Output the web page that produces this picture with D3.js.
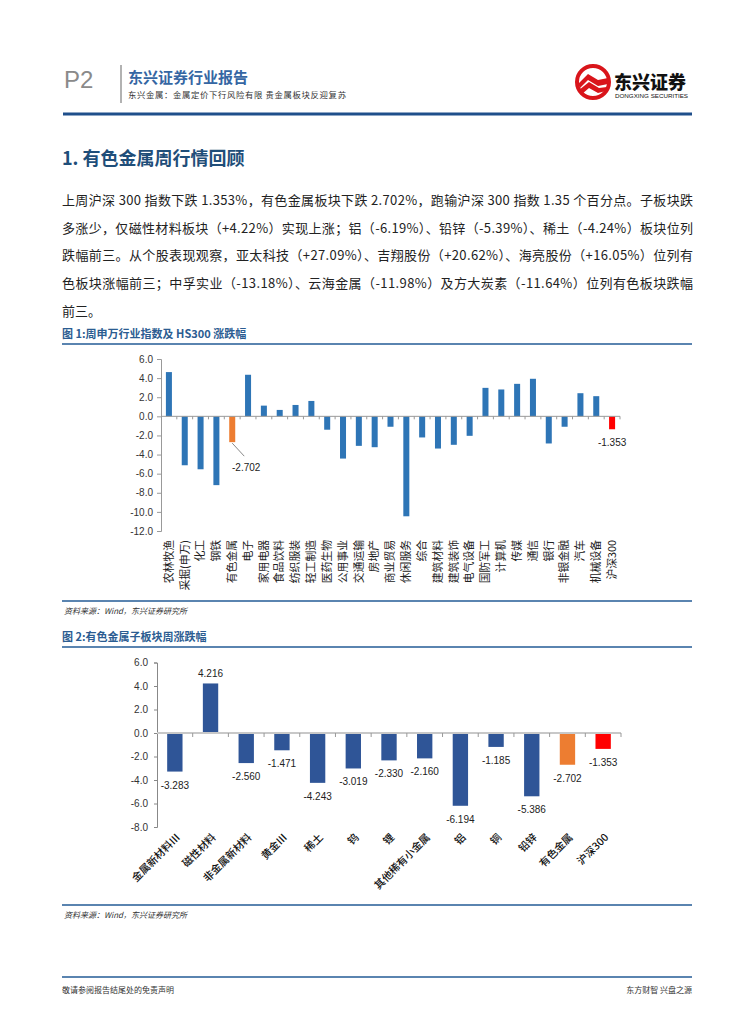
<!DOCTYPE html>
<html><head><meta charset="utf-8">
<script src="https://cdn.jsdelivr.net/npm/d3@7"></script>
<style>
body{margin:0;background:#fff;}
svg text{font-family:"Noto Sans CJK SC","Liberation Sans",sans-serif;}
</style></head>
<body>
<script>
// ---------- DATA ----------
const industries = ["农林牧渔","采掘(申万)","化工","钢铁","有色金属","电子","家用电器","食品饮料","纺织服装","轻工制造","医药生物","公用事业","交通运输","房地产","商业贸易","休闲服务","综合","建筑材料","建筑装饰","电气设备","国防军工","计算机","传媒","通信","银行","非银金融","汽车","机械设备","沪深300"];
const industryChange = [4.63,-5.12,-5.54,-7.2,-2.702,4.35,1.12,0.67,1.19,1.61,-1.40,-4.42,-3.09,-3.23,-1.09,-10.46,-2.21,-3.37,-2.98,-2.04,2.98,2.81,3.40,3.93,-2.84,-1.09,2.42,2.11,-1.353];
const yTicks1 = [6,4,2,0,-2,-4,-6,-8,-10,-12];

const subSectors = ["金属新材料Ⅲ","磁性材料","非金属新材料","黄金Ⅲ","稀土","钨","锂","其他稀有小金属","铝","铜","铅锌","有色金属","沪深300"];
const subChange = [-3.283,4.216,-2.560,-1.471,-4.243,-3.019,-2.330,-2.160,-6.194,-1.185,-5.386,-2.702,-1.353];
const yTicks2 = [6,4,2,0,-2,-4,-6,-8];

const paraLines = [
 "上周沪深 300 指数下跌 1.353%，有色金属板块下跌 2.702%，跑输沪深 300 指数 1.35 个百分点。子板块跌",
 "多涨少，仅磁性材料板块（+4.22%）实现上涨；铝（-6.19%）、铅锌（-5.39%）、稀土（-4.24%）板块位列",
 "跌幅前三。从个股表现观察，亚太科技（+27.09%）、吉翔股份（+20.62%）、海亮股份（+16.05%）位列有",
 "色板块涨幅前三；中孚实业（-13.18%）、云海金属（-11.98%）及方大炭素（-11.64%）位列有色板块跌幅",
 "前三。"
];

// ---------- PAGE ----------
const svg = d3.select("body").append("svg").attr("width",755).attr("height",1024);
const BLUE1="#2E75B6", BLUE2="#2F5597", ORANGE="#ED7D31", RED="#FF0000";
function barColor(name){ return name==="有色金属"?ORANGE:(name==="沪深300"?RED:null); }
const f1 = v=>v.toFixed(1), f3 = v=>v.toFixed(3);

// header
svg.append("text").attr("x",64).attr("y",88).attr("font-size",24).attr("fill","#8a8a8a")
  .style("font-family","Liberation Sans, sans-serif").text("P2");
svg.append("line").attr("x1",121).attr("x2",121).attr("y1",65).attr("y2",103).attr("stroke","#999").attr("stroke-width",1.5);
svg.append("text").attr("x",128).attr("y",83).attr("font-size",15).attr("font-weight",700).attr("fill","#3566a3").text("东兴证券行业报告");
svg.append("text").attr("x",128).attr("y",98).attr("font-size",8.4).attr("fill","#333")
  .attr("textLength",218).attr("lengthAdjust","spacing").text("东兴金属：金属定价下行风险有限 贵金属板块反迎复苏");
svg.append("line").attr("x1",63).attr("x2",692).attr("y1",114).attr("y2",114).attr("stroke","#1f4f8b").attr("stroke-width",3);

// logo
const logo = svg.append("g");
logo.append("circle").attr("cx",593).attr("cy",82).attr("r",16).attr("fill","none").attr("stroke","#d9151b").attr("stroke-width",4);
logo.append("path").attr("d","M578,84 L588,74 L598,80 L608,78 L608,84 L598,86 L588,80 L580,88 Z").attr("fill","#d9151b");
logo.append("path").attr("d","M579,90 L589,82 L599,88 L607,87 L606,91 L598,93 L589,88 L582,94 Z").attr("fill","#d9151b");
svg.append("text").attr("x",614).attr("y",89).attr("font-size",18).attr("font-weight",900).attr("fill","#111").text("东兴证券");
svg.append("text").attr("x",615).attr("y",98).attr("font-size",5.5).attr("fill","#111").attr("textLength",73).attr("lengthAdjust","spacingAndGlyphs").style("font-family","Liberation Sans, sans-serif").text("DONGXING SECURITIES");

// section heading
svg.append("text").attr("x",62).attr("y",165).attr("font-size",18).attr("font-weight",700).attr("fill","#1f4e79").text("1. 有色金属周行情回顾");

// paragraph
paraLines.forEach((t,i)=>{
  const tx = svg.append("text").attr("x",62).attr("y",205+i*27.7).attr("font-size",13).attr("fill","#222").text(t);
  if(i<paraLines.length-1) tx.attr("textLength",631).attr("lengthAdjust","spacing");
});

// figure titles / lines / sources
function figHeader(y, title){
  svg.append("text").attr("x",62).attr("y",y).attr("font-size",11).attr("font-weight",700).attr("fill","#2b5c91").text(title);
  svg.append("line").attr("x1",62).attr("x2",692).attr("y1",y+6).attr("y2",y+6).attr("stroke","#5a84b0").attr("stroke-width",2);
}
function figSource(y){
  svg.append("line").attr("x1",62).attr("x2",692).attr("y1",y).attr("y2",y).attr("stroke","#5a84b0").attr("stroke-width",2);
  svg.append("text").attr("x",64).attr("y",y+13).attr("font-size",8).attr("font-style","italic").attr("fill","#333").text("资料来源：Wind，东兴证券研究所");
}
figHeader(338, "图 1:周申万行业指数及 HS300 涨跌幅");
figSource(601);
figHeader(641, "图 2:有色金属子板块周涨跌幅");
figSource(905);

// footer
svg.append("line").attr("x1",62).attr("x2",692).attr("y1",977).attr("y2",977).attr("stroke","#5a84b0").attr("stroke-width",2);
svg.append("text").attr("x",62).attr("y",993).attr("font-size",8).attr("fill","#333").text("敬请参阅报告结尾处的免责声明");
svg.append("text").attr("x",692).attr("y",993).attr("text-anchor","end").attr("font-size",8).attr("fill","#333").text("东方财智 兴盘之源");

// ---------- CHART 1 ----------
{
  const y = d3.scaleLinear().domain([-12,6]).range([531,359]);
  const x = d3.scaleBand().domain(industries).range([161,620]);
  const bw = x.bandwidth()*0.38;
  const g = svg.append("g");
  const ax = g.append("g").attr("transform","translate(161,0)")
    .call(d3.axisLeft(y).tickValues(yTicks1).tickFormat(f1).tickSize(4).tickPadding(4));
  ax.select(".domain").attr("stroke","#999");
  ax.selectAll(".tick line").attr("stroke","#999");
  ax.selectAll("text").attr("font-size",10).attr("fill","#333").style("font-family","Liberation Sans, sans-serif");

  g.selectAll("rect").data(industries).join("rect")
    .attr("x",d=>x(d)+(x.bandwidth()-bw)/2)
    .attr("y",(d,i)=>y(Math.max(0,industryChange[i])))
    .attr("width",bw)
    .attr("height",(d,i)=>Math.abs(y(industryChange[i])-y(0)))
    .attr("fill",d=>barColor(d)||BLUE1);

  g.append("line").attr("x1",161).attr("x2",620).attr("y1",y(0)).attr("y2",y(0)).attr("stroke","#999");
  const bounds = industries.map(d=>x(d)+x.bandwidth());
  g.selectAll(".xt").data(bounds).join("line").attr("class","xt")
    .attr("x1",d=>d).attr("x2",d=>d).attr("y1",y(0)).attr("y2",y(0)+3).attr("stroke","#999");

  g.selectAll(".xl").data(industries).join("text").attr("class","xl")
    .attr("transform",d=>`translate(${x(d)+x.bandwidth()/2},540) rotate(-90)`)
    .attr("text-anchor","end").attr("dy","0.35em").attr("font-size",10.8).attr("fill","#222").text(d=>d);

  const iA = industries.indexOf("有色金属"), iB = industries.indexOf("沪深300");
  const ax0 = x(industries[iA])+x.bandwidth()/2;
  g.append("line").attr("x1",ax0).attr("y1",y(industryChange[iA])+1).attr("x2",ax0+12).attr("y2",y(industryChange[iA])+14).attr("stroke","#555").attr("stroke-width",0.7);
  g.append("text").attr("x",ax0+14).attr("y",y(industryChange[iA])+29).attr("text-anchor","middle").attr("font-size",10).attr("fill","#222")
    .style("font-family","Liberation Sans, sans-serif").text(f3(industryChange[iA]));
  g.append("text").attr("x",x(industries[iB])+x.bandwidth()/2).attr("y",y(industryChange[iB])+17).attr("text-anchor","middle").attr("font-size",10).attr("fill","#222")
    .style("font-family","Liberation Sans, sans-serif").text(f3(industryChange[iB]));
}

// ---------- CHART 2 ----------
{
  const y = d3.scaleLinear().domain([-8,6]).range([827,662.5]);
  const x = d3.scaleBand().domain(subSectors).range([157,621]);
  const bw = x.bandwidth()*0.43;
  const g = svg.append("g");
  const ax = g.append("g").attr("transform","translate(157,0)")
    .call(d3.axisLeft(y).tickValues(yTicks2).tickFormat(f1).tickSize(3).tickPadding(6));
  ax.select(".domain").attr("stroke","#888");
  ax.selectAll(".tick line").attr("stroke","#888");
  ax.selectAll("text").attr("font-size",10).attr("fill","#333").style("font-family","Liberation Sans, sans-serif");

  g.selectAll("rect").data(subSectors).join("rect")
    .attr("x",d=>x(d)+(x.bandwidth()-bw)/2)
    .attr("y",(d,i)=>y(Math.max(0,subChange[i])))
    .attr("width",bw)
    .attr("height",(d,i)=>Math.abs(y(subChange[i])-y(0)))
    .attr("fill",d=>barColor(d)||BLUE2);

  g.append("line").attr("x1",157).attr("x2",621).attr("y1",y(0)).attr("y2",y(0)).attr("stroke","#c8c8c8").attr("stroke-width",2);
  g.selectAll(".xt").data(subSectors.map(d=>x(d)+x.bandwidth())).join("line").attr("class","xt")
    .attr("x1",d=>d).attr("x2",d=>d).attr("y1",y(0)).attr("y2",y(0)+4).attr("stroke","#999");

  g.selectAll(".vl").data(subSectors).join("text").attr("class","vl")
    .attr("x",d=>x(d)+x.bandwidth()/2)
    .attr("y",(d,i)=>subChange[i]>=0? y(subChange[i])-6 : y(subChange[i])+17)
    .attr("text-anchor","middle").attr("font-size",10).attr("fill","#222")
    .style("font-family","Liberation Sans, sans-serif")
    .text((d,i)=>f3(subChange[i]));

  g.selectAll(".xl").data(subSectors).join("text").attr("class","xl")
    .attr("transform",d=>`translate(${x(d)+x.bandwidth()/2+6},838) rotate(-45)`)
    .attr("text-anchor","end").attr("font-size",10.5).attr("font-weight",500).attr("fill","#111").text(d=>d);
}
</script>
</body></html>
